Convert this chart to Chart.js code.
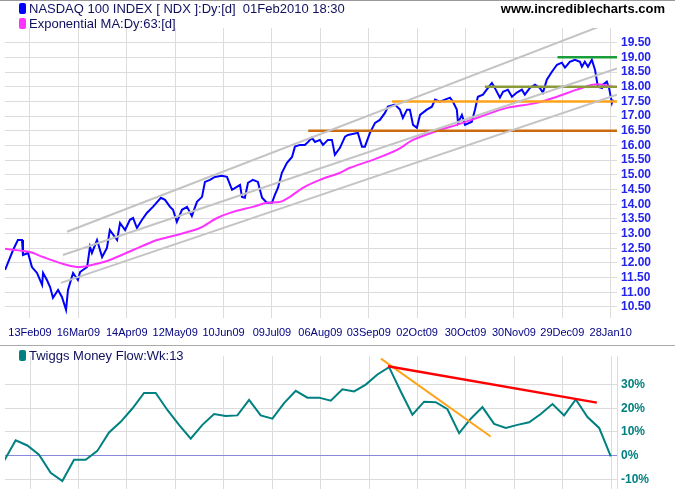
<!DOCTYPE html>
<html><head><meta charset="utf-8">
<script src="https://cdn.jsdelivr.net/npm/chart.js@4"></script>
<style>
body{margin:0;width:675px;height:500px;position:relative;background:#fff;font-family:"Liberation Sans",Arial,sans-serif;overflow:hidden}
canvas{position:absolute;left:0}
.lg{position:absolute;font-size:13px;color:#101060;white-space:pre}
.sq{display:inline-block;width:7px;height:11px;border-radius:2px;margin-right:3px;vertical-align:-1px}
</style></head><body>
<div style="position:absolute;left:0;top:0;width:675px;height:1px;background:#999"></div>
<canvas id="c1" width="675" height="345" style="top:0"></canvas>
<div style="position:absolute;left:0;top:345px;width:675px;height:1px;background:#aaa"></div>
<canvas id="c2" width="675" height="155" style="top:345px"></canvas>
<div class="lg" style="left:19px;top:1px"><span class="sq" style="background:#0000ff"></span>NASDAQ 100 INDEX [ NDX ]:Dy:[d]  01Feb2010 18:30</div>
<div class="lg" style="left:19px;top:16px"><span class="sq" style="background:#ff33ff"></span>Exponential MA:Dy:63:[d]</div>
<div class="lg" style="right:10px;top:1px;font-weight:bold;color:#000">www.incrediblecharts.com</div>
<div class="lg" style="left:19px;top:348px"><span class="sq" style="background:#008080"></span>Twiggs Money Flow:Wk:13</div>
<script>
const tickDays=[0,20,40,60,80,100,120,140,160,180,200,220,240];
const tickLabels=["13Feb09","16Mar09","14Apr09","12May09","10Jun09","09Jul09","06Aug09","03Sep09","02Oct09","30Oct09","30Nov09","29Dec09","28Jan10"];
const priceDays=[-10.3,-7,-5,-3.3,-2.9,-0.8,0.8,2.9,5,5.4,7,8.3,9.5,11.6,13.2,14.9,15.7,17.8,19.8,20.7,23.6,24.8,25.6,27.7,29.8,31.8,33,36,37.2,39.3,41.3,42.6,44.2,46.3,48.3,50.8,54.1,55.8,57.9,59.1,60.7,62.8,64.9,66.9,69,71.1,72.3,74.4,76.4,79.3,81.4,83.5,85.5,86.8,87.6,88.8,90.1,92.1,94.2,95.9,97.9,100,101.2,102.5,104.1,106.2,108.3,109.5,111.6,113.6,114.9,116.5,117.8,119.8,121.1,123.1,124.8,126,128.1,
130.2,131.4,135.5,137.2,138.4,140.5,142.6,144.6,146.7,147.9,150.8,152.9,154.1,155.8,157,158.3,159.9,161.2,164,166.1,167.4,169.4,171.5,173.6,174.8,176.4,176.9,178.5,179.8,182.6,183.9,185.1,187.2,189.3,190.9,192.1,194.2,195.5,197.5,199.2,201.2,203.3,204.5,206.6,208.7,210.7,212,213.6,215.7,217.8,219.8,221.1,223.1,225.2,227.3,228.1,229.3,230.6,232.2,233.5,234.7,236.4,236.8,238.4,239.3,240.5,240.9];
const priceValues=[11.76,12.44,12.78,12.78,12.27,12.34,11.86,11.66,11.25,11.66,11.42,11.18,10.81,11.08,10.84,10.40,11.08,11.66,11.42,11.69,11.86,12.55,12.34,12.78,12.20,12.51,13.12,12.78,13.36,13.12,13.47,13.53,13.19,13.47,13.70,13.91,14.22,14.15,13.91,13.81,13.40,13.81,13.91,13.60,14.08,14.25,14.76,14.83,14.93,14.97,14.93,14.49,14.59,14.66,14.25,14.22,14.73,14.83,14.76,14.22,14.05,14.05,14.32,14.56,15.07,15.41,15.61,15.96,16.02,16.02,16.12,16.26,16.12,16.19,16.02,16.19,16.19,15.68,15.92,
16.30,16.36,16.43,15.96,15.96,16.43,16.77,16.87,17.11,17.32,17.39,17.22,16.94,17.22,17.22,16.70,16.60,17.04,17.22,17.32,17.56,17.49,17.56,17.63,17.49,17.22,16.77,17.04,16.70,16.81,17.22,17.66,17.73,17.96,18.13,17.96,17.63,17.83,17.90,17.66,17.80,17.90,17.73,17.96,18.07,17.96,17.80,18.24,18.51,18.75,18.82,18.65,18.85,18.92,18.85,18.68,18.85,18.68,18.92,18.58,18.00,17.96,18.07,18.17,17.96,17.45,17.56];
const maDays=[-10.3,0,5.4,15.3,20.7,28.9,33,42.6,52.5,60.7,70.2,77.3,83.9,92.1,97.9,103.3,107.4,112.8,119.8,128.1,132.2,141.7,151.7,158.3,169.4,176.4,186,197.1,209.5,217.8,226,232.6,236.8,240.9];
const maValues=[12.48,12.37,12.2,11.93,11.86,12.0,12.1,12.44,12.78,12.95,13.19,13.53,13.74,13.91,14.05,14.08,14.25,14.56,14.83,15.07,15.24,15.51,15.85,16.19,16.53,16.70,16.98,17.28,17.45,17.66,17.90,18.07,18.07,18.0];
const channels=[{d:[15.3,242.6],v:[13.06,20.28]},{d:[13.6,242.6],v:[12.27,18.62]},{d:[12.8,242.6],v:[11.32,17.73]}];
const levels=[{d:[218,242.6],v:19.0,c:"#1a9e3a"},{d:[188,242.6],v:18.0,c:"#8c9a3c"},{d:[149.6,242.6],v:17.5,c:"#ffa31a"},{d:[115,242.6],v:16.5,c:"#cc6a10"}];
const tmf=[-2.3,6.5,4.3,0.4,-7.2,-10.7,-1.7,-1.7,2,9.8,14.3,19.9,26.5,26.5,19.3,13,7.2,13,17.6,16.7,17,23.5,17,15.6,22.2,27.4,24.5,24.5,23.2,28,27.1,30,34.3,37.4,27.1,17.3,22.8,22.6,19.6,9.5,15.6,20.5,13.4,11.7,13,14.1,17.6,21.8,17,23.7,16.3,11.7,-0.3];
const tmfTickWeeks=[2.23,6.38,10.53,14.68,18.83,22.98,27.13,31.28,35.43,39.58,43.73,47.88,52.03];
const redTrend={w:[32.9,50.8],v:[37.8,22.4]};
const orangeTrend={w:[32.3,41.7],v:[41,8.1]};

const F="'Liberation Sans',Arial,sans-serif";
const zip=(a,b)=>a.map((x,i)=>({x:x,y:b[i]}));
const ds1=[];
channels.forEach(c=>ds1.push({data:zip(c.d,c.v),borderColor:"#c4c4c4",borderWidth:2}));
levels.forEach(l=>ds1.push({data:zip(l.d,[l.v,l.v]),borderColor:l.c,borderWidth:2.5}));
ds1.push({data:zip(maDays,maValues),borderColor:"#ff33ff",borderWidth:2,tension:0.3});
ds1.push({data:zip(priceDays,priceValues),borderColor:"#0000ff",borderWidth:2});
new Chart(document.getElementById("c1"),{type:"line",data:{datasets:ds1},
options:{animation:false,responsive:false,events:[],
 elements:{point:{radius:0}},
 plugins:{legend:{display:false},tooltip:{enabled:false}},
 layout:{padding:{left:5,top:28,right:0,bottom:0}},
 scales:{
  x:{type:"linear",min:-10.33,max:242.6,
   afterBuildTicks:s=>{s.ticks=tickDays.map(v=>({value:v}));},
   afterFit:s=>{s.height=27;},
   ticks:{callback:(v,i)=>tickLabels[i],font:{family:F,size:11},color:"#000080",padding:8,maxRotation:0,autoSkip:false},
   grid:{color:"#dcdcdc",drawTicks:false},border:{display:false}},
  y:{position:"right",min:10.125,max:20.0,
   afterBuildTicks:s=>{const t=[];for(let v=10.5;v<=19.51;v+=0.5)t.push({value:v});s.ticks=t;},
   afterFit:s=>{s.width=58;},
   ticks:{callback:v=>v.toFixed(2),font:{family:F,size:12,weight:"bold"},color:"#2323ee",padding:4,autoSkip:false},
   grid:{color:"#dcdcdc",drawTicks:false},border:{display:false}}
 }}});

const ds2=[
 {data:zip(redTrend.w,redTrend.v),borderColor:"#ff0000",borderWidth:2.5},
 {data:zip(orangeTrend.w,orangeTrend.v),borderColor:"#ffa31a",borderWidth:2},
 {data:tmf.map((v,i)=>({x:i,y:v})),borderColor:"#008080",borderWidth:2}
];
new Chart(document.getElementById("c2"),{type:"line",data:{datasets:ds2},
options:{animation:false,responsive:false,events:[],
 elements:{point:{radius:0}},
 plugins:{legend:{display:false},tooltip:{enabled:false}},
 layout:{padding:{left:5,top:5,right:0,bottom:0}},
 scales:{
  x:{type:"linear",min:0.086,max:52.53,
   afterBuildTicks:s=>{s.ticks=tmfTickWeeks.map(v=>({value:v}));},
   afterFit:s=>{s.height=0;},
   ticks:{display:false},
   grid:{color:"#dcdcdc",drawTicks:false},border:{display:false}},
  y:{position:"right",min:-14,max:42,
   afterBuildTicks:s=>{s.ticks=[-10,0,10,20,30].map(v=>({value:v}));},
   afterFit:s=>{s.width=58;},
   ticks:{callback:v=>v+"%",font:{family:F,size:12,weight:"bold"},color:"#008080",padding:4,autoSkip:false},
   grid:{color:c=>c.tick&&c.tick.value===0?"#8888dd":"#dcdcdc",drawTicks:false},border:{display:true,color:"#dcdcdc"}}
 }}});
</script></body></html>
